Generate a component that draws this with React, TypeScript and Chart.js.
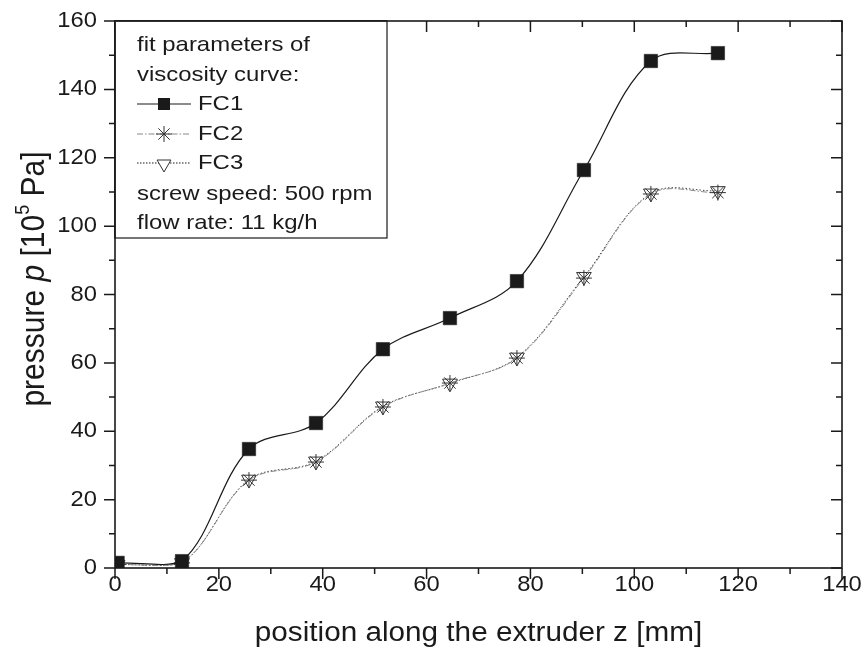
import React, { useEffect, useRef } from "react";
import { Chart, registerables } from "chart.js";

Chart.register(...registerables);

// ---- data ----
const positions = [0.5, 12.9, 25.8, 38.7, 51.6, 64.5, 77.4, 90.3, 103.2, 116.1];
const fc1 = [1.5, 2.0, 34.8, 42.4, 64.0, 73.1, 83.9, 116.4, 148.3, 150.6];
const fc2 = [1.0, 1.5, 25.7, 31.0, 47.1, 54.1, 61.4, 84.8, 109.4, 109.8];
const fc3 = [1.0, 1.5, 25.9, 31.2, 47.3, 54.0, 61.6, 85.2, 109.6, 110.3];
const seriesNames = ["FC1", "FC2", "FC3"];

const xTicks = [0, 20, 40, 60, 80, 100, 120, 140];
const xMinorTicks = [10, 30, 50, 70, 90, 110, 130];
const yTicks = [0, 20, 40, 60, 80, 100, 120, 140, 160];
const yMinorTicks = [10, 30, 50, 70, 90, 110, 130, 150];

const legendHeader = ["fit parameters of", "viscosity curve:"];
const legendFooter = ["screw speed: 500 rpm", "flow rate: 11 kg/h"];
const xTitle = "position along the extruder z [mm]";
const yTitleParts = [
  { text: "pressure ", style: "normal" },
  { text: "p", style: "italic" },
  { text: " [10", style: "normal" },
  { text: "5", style: "sup" },
  { text: " Pa]", style: "normal" },
];

const FONT = "'Liberation Sans', Arial, Helvetica, sans-serif";
const INK = "#1a1a1a";

function stretchText(ctx: CanvasRenderingContext2D, text: string, x: number, y: number, sx: number, align: CanvasTextAlign) {
  ctx.save();
  ctx.translate(x, y);
  ctx.scale(sx, 1);
  ctx.textAlign = align;
  ctx.fillText(text, 0, 0);
  ctx.restore();
}

function drawSquare(ctx: CanvasRenderingContext2D, x: number, y: number, s: number) {
  ctx.fillStyle = INK;
  ctx.fillRect(x - s / 2, y - s / 2, s, s);
}
function drawStar(ctx: CanvasRenderingContext2D, x: number, y: number, r: number) {
  ctx.beginPath();
  ctx.moveTo(x, y - r); ctx.lineTo(x, y + r);
  ctx.moveTo(x - r, y); ctx.lineTo(x + r, y);
  const d = r * Math.SQRT1_2;
  ctx.moveTo(x - d, y - d); ctx.lineTo(x + d, y + d);
  ctx.moveTo(x - d, y + d); ctx.lineTo(x + d, y - d);
  ctx.strokeStyle = "#333"; ctx.lineWidth = 1; ctx.setLineDash([]);
  ctx.stroke();
}
function drawTriDown(ctx: CanvasRenderingContext2D, x: number, y: number, r: number) {
  ctx.beginPath();
  const a = Math.PI;
  for (let i = 0; i < 3; i++) {
    const ang = a + (i * 2 * Math.PI) / 3;
    const px = x + Math.sin(ang) * r;
    const py = y - Math.cos(ang) * r;
    if (i === 0) ctx.moveTo(px, py); else ctx.lineTo(px, py);
  }
  ctx.closePath();
  ctx.fillStyle = "#fff"; ctx.fill();
  ctx.strokeStyle = "#333"; ctx.lineWidth = 1; ctx.setLineDash([]);
  ctx.stroke();
}

const framePlugin = {
  id: "originFrame",
  afterDraw(chart: any) {
    const ctx: CanvasRenderingContext2D = chart.ctx;
    const { left, right, top, bottom } = chart.chartArea;
    const xs = chart.scales.x;
    const ys = chart.scales.y;
    const MAJ = 11, MIN = 6;
    ctx.save();
    ctx.setLineDash([]);
    ctx.strokeStyle = INK;
    ctx.lineWidth = 1.6;
    ctx.strokeRect(left, top, right - left, bottom - top);

    ctx.lineWidth = 1.5;
    ctx.beginPath();
    xTicks.forEach((v) => {
      const p = xs.getPixelForValue(v);
      ctx.moveTo(p, bottom); ctx.lineTo(p, bottom + MAJ);
      ctx.moveTo(p, top); ctx.lineTo(p, top + MAJ);
    });
    xMinorTicks.forEach((v) => {
      const p = xs.getPixelForValue(v);
      ctx.moveTo(p, bottom); ctx.lineTo(p, bottom + MIN);
      ctx.moveTo(p, top); ctx.lineTo(p, top + MIN);
    });
    yTicks.forEach((v) => {
      const p = ys.getPixelForValue(v);
      ctx.moveTo(left, p); ctx.lineTo(left - MAJ, p);
      ctx.moveTo(right, p); ctx.lineTo(right - MAJ, p);
    });
    yMinorTicks.forEach((v) => {
      const p = ys.getPixelForValue(v);
      ctx.moveTo(left, p); ctx.lineTo(left - MIN, p);
      ctx.moveTo(right, p); ctx.lineTo(right - MIN, p);
    });
    ctx.stroke();

    // tick labels
    ctx.fillStyle = INK;
    ctx.font = `22px ${FONT}`;
    ctx.textBaseline = "middle";
    xTicks.forEach((v) => {
      stretchText(ctx, String(v), xs.getPixelForValue(v), bottom + 17, 1.08, "center");
    });
    yTicks.forEach((v) => {
      stretchText(ctx, String(v), left - 18, ys.getPixelForValue(v), 1.08, "right");
    });

    // x title
    ctx.font = `27px ${FONT}`;
    stretchText(ctx, xTitle, (left + right) / 2, 634, 1.1, "center");

    // y title
    ctx.save();
    ctx.translate(35, 279);
    ctx.rotate(-Math.PI / 2);
    ctx.scale(1, 1.12);
    const fontFor = (s: string) =>
      s === "italic" ? `italic 30px ${FONT}` : s === "sup" ? `18px ${FONT}` : `30px ${FONT}`;
    let total = 0;
    yTitleParts.forEach((p) => { ctx.font = fontFor(p.style); total += ctx.measureText(p.text).width; });
    let cx = -total / 2;
    ctx.textAlign = "left";
    ctx.textBaseline = "middle";
    yTitleParts.forEach((p) => {
      ctx.font = fontFor(p.style);
      ctx.fillText(p.text, cx, p.style === "sup" ? -10 : 0);
      cx += ctx.measureText(p.text).width;
    });
    ctx.restore();

    // legend box
    const bx = left, by = top, bw = 387 - left, bh = 238 - top;
    ctx.fillStyle = "#fff";
    ctx.fillRect(bx, by, bw, bh);
    ctx.strokeStyle = INK;
    ctx.lineWidth = 1.2;
    ctx.strokeRect(bx, by, bw, bh);
    ctx.lineWidth = 1.6;
    ctx.beginPath();
    ctx.moveTo(left, top); ctx.lineTo(bx + bw, top);
    ctx.moveTo(left, top); ctx.lineTo(left, by + bh);
    ctx.stroke();

    ctx.fillStyle = INK;
    ctx.font = `21px ${FONT}`;
    ctx.textBaseline = "middle";
    const tx = 137;
    const rowY = [45, 75, 104, 134, 163, 194, 223];
    stretchText(ctx, legendHeader[0], tx, rowY[0], 1.14, "left");
    stretchText(ctx, legendHeader[1], tx, rowY[1], 1.14, "left");
    // samples
    const sx0 = 137, sx1 = 191, mx = 164, lx = 198;
    // FC1
    ctx.setLineDash([]); ctx.strokeStyle = INK; ctx.lineWidth = 1.2;
    ctx.beginPath(); ctx.moveTo(sx0, rowY[2]); ctx.lineTo(sx1, rowY[2]); ctx.stroke();
    drawSquare(ctx, mx, rowY[2], 12);
    // FC2
    ctx.setLineDash([6, 2, 1.5, 2]); ctx.strokeStyle = "#888"; ctx.lineWidth = 1;
    ctx.beginPath(); ctx.moveTo(sx0, rowY[3]); ctx.lineTo(sx1, rowY[3]); ctx.stroke();
    drawStar(ctx, mx, rowY[3], 8);
    // FC3
    ctx.setLineDash([1.5, 1.5]); ctx.strokeStyle = INK; ctx.lineWidth = 1;
    ctx.beginPath(); ctx.moveTo(sx0, rowY[4]); ctx.lineTo(sx1, rowY[4]); ctx.stroke();
    drawTriDown(ctx, mx, rowY[4] + 1, 8);
    ctx.setLineDash([]);
    ctx.fillStyle = INK;
    ctx.font = `21px ${FONT}`;
    stretchText(ctx, seriesNames[0], lx, rowY[2], 1.14, "left");
    stretchText(ctx, seriesNames[1], lx, rowY[3], 1.14, "left");
    stretchText(ctx, seriesNames[2], lx, rowY[4], 1.14, "left");
    stretchText(ctx, legendFooter[0], tx, rowY[5], 1.14, "left");
    stretchText(ctx, legendFooter[1], tx, rowY[6], 1.14, "left");
    ctx.restore();
  },
};

export default function App() {
  const ref = useRef<HTMLCanvasElement | null>(null);
  useEffect(() => {
    document.body.style.margin = "0";
    const canvas = ref.current;
    if (!canvas) return;
    const toPts = (ys: number[]) => positions.map((x, i) => ({ x, y: ys[i] }));
    const chart = new Chart(canvas, {
      type: "line",
      data: {
        datasets: [
          {
            label: seriesNames[0],
            data: toPts(fc1),
            borderColor: INK,
            borderWidth: 1.2,
            pointStyle: "rect",
            pointRadius: 9.5,
            pointBackgroundColor: INK,
            pointBorderColor: INK,
            pointBorderWidth: 0.5,
            tension: 0.35,
            fill: false,
          },
          {
            label: seriesNames[1],
            data: toPts(fc2),
            borderColor: "#888",
            borderWidth: 1,
            borderDash: [6, 2, 1.5, 2],
            pointStyle: "star",
            pointRadius: 8,
            pointBackgroundColor: "#333",
            pointBorderColor: "#333",
            pointBorderWidth: 1,
            tension: 0.35,
            fill: false,
          },
          {
            label: seriesNames[2],
            data: toPts(fc3),
            borderColor: "#444",
            borderWidth: 1,
            borderDash: [1.5, 2],
            pointStyle: "triangle",
            pointRotation: 180,
            pointRadius: 8.5,
            pointBackgroundColor: "rgba(255,255,255,0)",
            pointBorderColor: "#333",
            pointBorderWidth: 1,
            tension: 0.35,
            fill: false,
          },
        ],
      },
      options: {
        animation: false,
        responsive: false,
        devicePixelRatio: 1,
        layout: { padding: { left: 115, right: 22, top: 21, bottom: 85 } },
        scales: {
          x: { type: "linear", min: 0, max: 140, display: false },
          y: { type: "linear", min: 0, max: 160, display: false },
        },
        plugins: { legend: { display: false }, tooltip: { enabled: false } },
      },
      plugins: [framePlugin],
    } as any);
    return () => chart.destroy();
  }, []);
  return (
    <div style={{ width: 864, height: 653, background: "#fff" }}>
      <canvas ref={ref} width={864} height={653} />
    </div>
  );
}
